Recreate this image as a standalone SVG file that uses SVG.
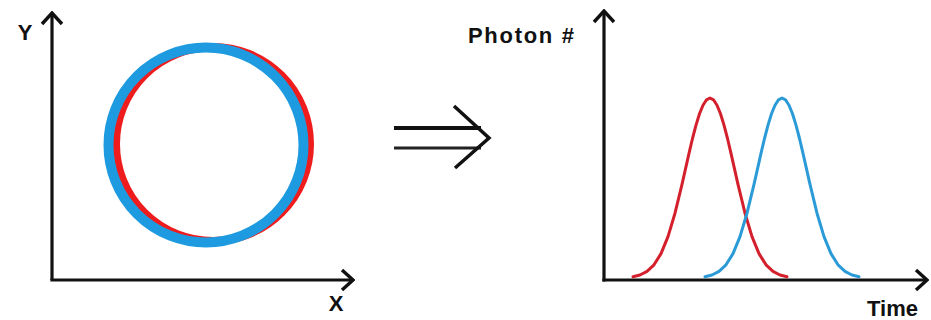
<svg xmlns="http://www.w3.org/2000/svg" xmlns:xlink="http://www.w3.org/1999/xlink" width="931" height="320" viewBox="0 0 931 320">
  <style>
    .axis { stroke: #111; stroke-width: 3.2; fill: none; }
    .lbl { font-family: "Liberation Sans", Arial, sans-serif; font-weight: bold; fill: #111; }
    .red { stroke: #d4202c; stroke-width: 3; fill: none; stroke-linejoin: round; stroke-linecap: round; }
    .blue { stroke: #2b9bd8; stroke-width: 3; fill: none; stroke-linejoin: round; stroke-linecap: round; }
  </style>
  <defs>
    <marker id="head" viewBox="-14 -12 16 24" refX="0" refY="0" markerWidth="16" markerHeight="24" markerUnits="userSpaceOnUse" orient="auto">
      <path d="M-11,-10 L0,0 L-11,10" fill="none" stroke="#111" stroke-width="3.4"/>
    </marker>
    <path id="gauss" d="M633,276.7 L640,275 L647,271.4 L654,264.8 L661,253.6 L668,236.6 L675,213.2 L682,184.3 L689,153.3 L692.5,138.5 L696,125.1 L699.5,113.8 L703,105.2 L706.5,99.8 L710,98 L713.5,99.8 L717,105.2 L720.5,113.8 L724,125.1 L727.5,138.5 L731,153.3 L738,184.3 L745,213.2 L752,236.6 L759,253.6 L766,264.8 L773,271.4 L780,275 L787,276.7"/>
  </defs>
  <rect width="931" height="320" fill="#ffffff"/>

  <g id="left-plot">
    <line class="axis" x1="52" y1="280" x2="52" y2="13" marker-end="url(#head)"/>
    <line class="axis" x1="50.4" y1="280" x2="353" y2="280" marker-end="url(#head)"/>
    <text class="lbl" x="25" y="40" font-size="22" text-anchor="middle">Y</text>
    <text class="lbl" x="336" y="311" font-size="22" text-anchor="middle">X</text>
    <circle cx="213" cy="144" r="97" fill="none" stroke="#ee1c1c" stroke-width="8"/>
    <circle cx="206" cy="145" r="97.5" fill="none" stroke="#1e9be0" stroke-width="10"/>
  </g>

  <g id="connectors">
    <line x1="394" y1="128" x2="481" y2="128" stroke="#111" stroke-width="4"/>
    <line x1="394" y1="148" x2="481" y2="148" stroke="#222" stroke-width="3"/>
    <polyline points="454,106 489,138 455,168" fill="none" stroke="#111" stroke-width="3.5"/>
  </g>

  <g id="right-plot">
    <line class="axis" x1="604" y1="281.6" x2="604" y2="11" marker-end="url(#head)"/>
    <line class="axis" x1="602.4" y1="280" x2="927" y2="280" marker-end="url(#head)"/>
    <text class="lbl" x="468" y="43" font-size="22" textLength="106" lengthAdjust="spacing">Photon #</text>
    <text class="lbl" x="867" y="316" font-size="22">Time</text>
    <use xlink:href="#gauss" class="red"/>
    <use xlink:href="#gauss" class="blue" transform="translate(72,0)"/>
  </g>
</svg>
